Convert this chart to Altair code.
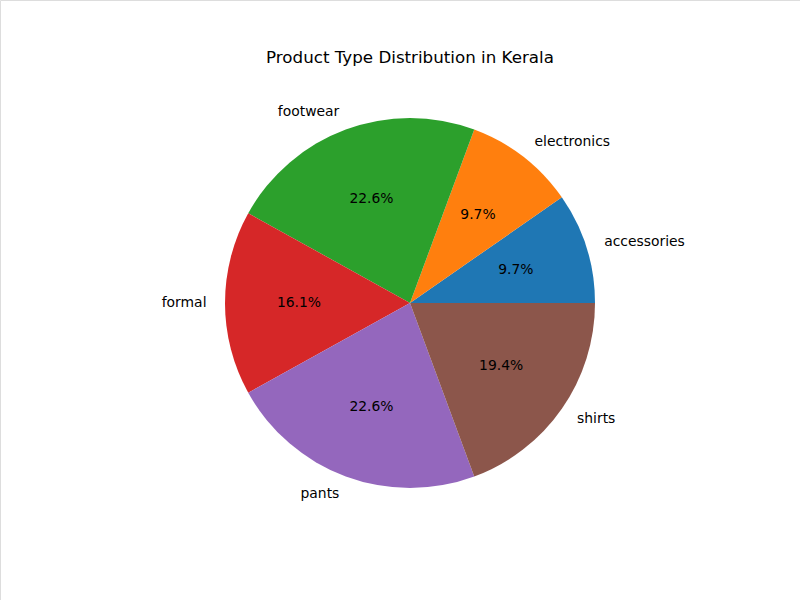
import math
import altair as alt
import pandas as pd

categories = ["accessories", "electronics", "footwear", "formal", "pants", "shirts"]
counts = [3, 3, 7, 5, 7, 6]
colors = ["#1f77b4", "#ff7f0e", "#2ca02c", "#d62728", "#9467bd", "#8c564b"]

df = pd.DataFrame({"category": categories, "count": counts, "idx": list(range(len(categories)))})

CX, CY, R = 410, 303, 185
FONT = "DejaVu Sans"

theta_scale = alt.Scale(domain=[0, 1], range=[math.pi / 2, math.pi / 2 - 2 * math.pi])
color_scale = alt.Scale(domain=categories, range=colors)

base = alt.Chart(df).transform_window(
    cum="sum(count)", sort=[alt.SortField("idx", order="ascending")], frame=[None, 0]
).transform_joinaggregate(
    total="sum(count)"
).transform_calculate(
    f_end="datum.cum / datum.total",
    f_start="(datum.cum - datum.count) / datum.total",
).transform_calculate(
    f_mid="(datum.f_start + datum.f_end) / 2",
    pct="format(datum.count / datum.total, '.1%')",
).transform_calculate(
    side="cos(2 * PI * datum.f_mid) > 0 ? 'right' : 'left'"
)

arcs = base.mark_arc(radius=R, strokeWidth=0).encode(
    theta=alt.Theta("f_start:Q", scale=theta_scale),
    theta2="f_end:Q",
    color=alt.Color("category:N", scale=color_scale, legend=None),
    x=alt.value(CX),
    y=alt.value(CY),
)

pct_text = base.mark_text(radius=R * 0.6, font=FONT, fontSize=13.9, color="black",
                          align="center", baseline="middle").encode(
    theta=alt.Theta("f_mid:Q", scale=theta_scale),
    text="pct:N",
    x=alt.value(CX),
    y=alt.value(CY),
)

labels_right = base.transform_filter("datum.side == 'right'").mark_text(
    radius=R * 1.1, font=FONT, fontSize=13.9, color="black", align="left", baseline="middle"
).encode(
    theta=alt.Theta("f_mid:Q", scale=theta_scale),
    text="category:N",
    x=alt.value(CX),
    y=alt.value(CY),
)

labels_left = base.transform_filter("datum.side == 'left'").mark_text(
    radius=R * 1.1, font=FONT, fontSize=13.9, color="black", align="right", baseline="middle"
).encode(
    theta=alt.Theta("f_mid:Q", scale=theta_scale),
    text="category:N",
    x=alt.value(CX),
    y=alt.value(CY),
)

chart = alt.layer(arcs, pct_text, labels_right, labels_left).properties(
    width=800,
    height=600,
    padding=0,
    autosize=alt.AutoSizeParams(type="none"),
    title=alt.TitleParams(
        "Product Type Distribution in Kerala",
        font=FONT, fontSize=16.7, fontWeight="normal", color="black",
        anchor="middle", offset=-84, baseline="bottom", dx=10,
    ),
).configure_view(stroke=None).configure(background="white")

chart.save("out.html", embed_options={"renderer": "svg", "actions": False})
